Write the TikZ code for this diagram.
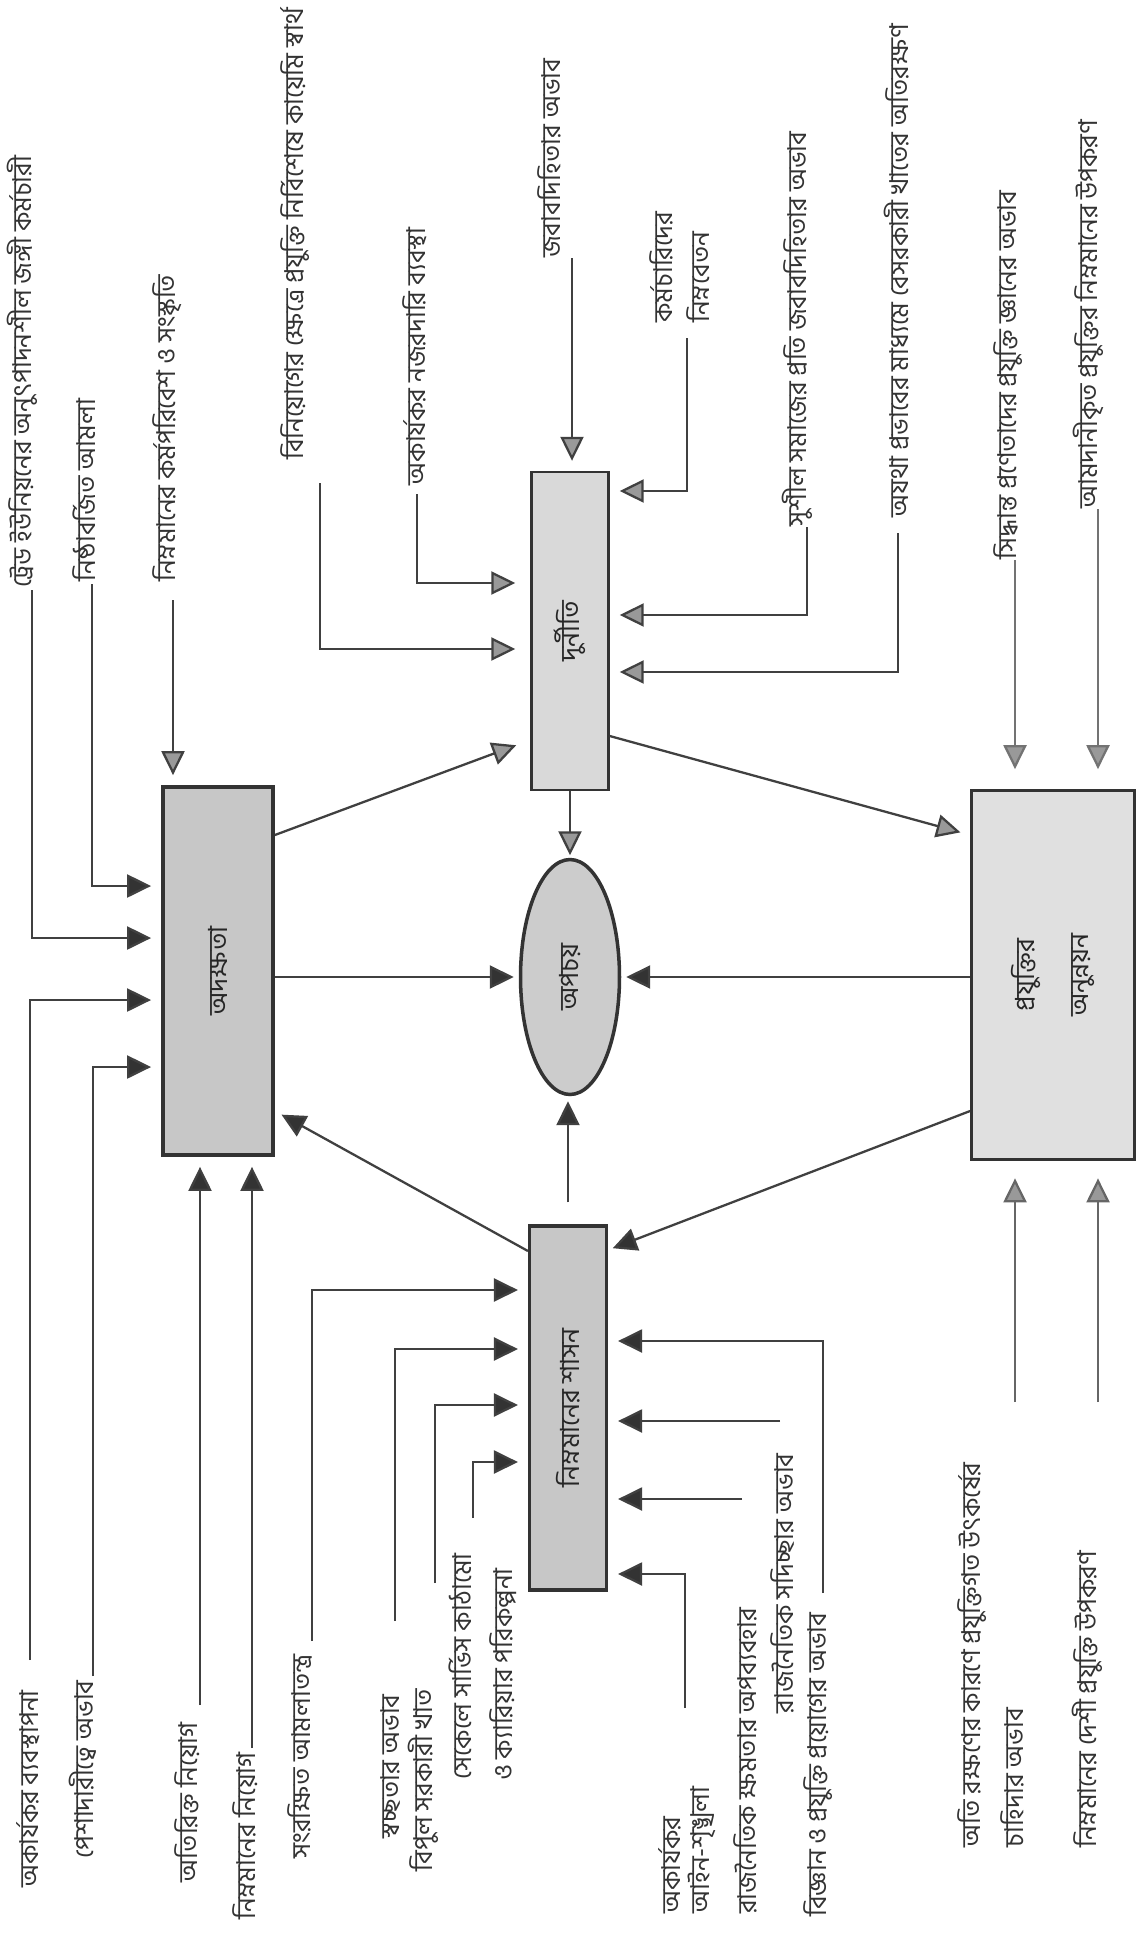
\documentclass[tikz,border=0pt]{standalone}
\usepackage{fontspec}
\newfontfamily\bn[Script=Bengali]{Hind Siliguri}
\usetikzlibrary{arrows.meta,shapes.geometric}
\begin{document}
\begin{tikzpicture}[x=0.02cm,y=-0.02cm,
  lab/.style={rotate=90,inner sep=0pt,font=\bn\fontsize{14.8}{21}\selectfont,text=black!80},
  boxlab/.style={rotate=90,inner sep=0pt,font=\bn\fontsize{15}{21}\selectfont,text=black!85,align=center},
  ln/.style={line width=1.3pt,draw=black!75},
  darr/.style={ln,-{Triangle[length=0.48cm,width=0.46cm,fill=black!80]},shorten >=0.2cm},
  garr/.style={ln,-{Triangle[length=0.48cm,width=0.46cm,fill=black!40]},shorten >=0.2cm},
  box/.style={draw=black!80,inner sep=0pt}
]
\fill[white] (0,0) rectangle (1139,1941);
\useasboundingbox (0,0) rectangle (1139,1941);

% central nodes
\node[box,line width=2.2pt,fill=black!22,minimum width=2.2cm,minimum height=7.36cm] (ad) at (218,971) {};
\node[box,line width=1.4pt,fill=black!15,minimum width=1.54cm,minimum height=6.36cm] (dn) at (570,631) {};
\node[box,ellipse,line width=2pt,fill=black!20,minimum width=1.98cm,minimum height=4.7cm] (ap) at (570,977) {};
\node[box,line width=1.8pt,fill=black!22,minimum width=1.54cm,minimum height=7.28cm] (ns) at (568,1408) {};
\node[box,line width=1.6pt,fill=black!12,minimum width=3.26cm,minimum height=7.38cm] (pr) at (1053,975) {};
\node[boxlab] (adl) at (ad.center) {অদক্ষতা};
\node[boxlab] (dnl) at (dn.center) {দুর্নীতি};
\node[boxlab] (apl) at (ap.center) {অপচয়};
\node[boxlab] (nsl) at (ns.center) {নিম্নমানের শাসন};
\node[boxlab] (prl) at (pr.center) {প্রযুক্তির\\[10pt]অনুন্নয়ন};

% central connectors
\draw[garr,shorten >=0.3cm] (ad.east |- 0,835) -- (dn.west |- 0,740);
\draw[darr,shorten >=0.1cm] (ad.east |- ap.west) -- (ap.west);
\draw[garr,shorten >=0.05cm] (dn.south) -- (dn.south |- ap.north);
\draw[garr] (dn.east |- 0,736) -- (pr.west |- 0,835);
\draw[darr,shorten >=0.1cm] (pr.west |- ap.east) -- (ap.east);
\draw[darr,shorten >=0.1cm] (pr.west |- 0,1111) -- (ns.east |- 0,1250);
\draw[darr,shorten <=0.44cm,shorten >=0.1cm] (ns.north) -- (ns.north |- ap.south);
\draw[darr,shorten >=0.15cm] (ns.west |- 0,1251) -- (ad.east |- 0,1111);

% top labels
\node[lab,anchor=west] (t1) at (22,588) {ট্রেড ইউনিয়নের অনুৎপাদনশীল জঙ্গী কর্মচারী};
\node[lab,anchor=west] (t2) at (84,582) {নিষ্ঠাবর্জিত আমলা};
\node[lab,anchor=west] (t3) at (167,582) {নিম্নমানের কর্মপরিবেশ ও সংস্কৃতি};
\node[lab,anchor=west] (t4) at (295,460) {বিনিয়োগের ক্ষেত্রে প্রযুক্তি নির্বিশেষে কায়েমি স্বার্থ};
\node[lab,anchor=east] (t5) at (415,227) {অকার্যকর নজরদারি ব্যবস্থা};
\node[lab,anchor=west] (t6) at (549,258) {জবাবদিহিতার অভাব};
\node[lab,anchor=west,align=left] (t7) at (680,323) {কর্মচারিদের\\নিম্নবেতন};
\node[lab,anchor=west] (t8) at (797,527) {সুশীল সমাজের প্রতি জবাবদিহিতার অভাব};
\node[lab,anchor=west] (t9) at (897,518) {অযথা প্রভাবের মাধ্যমে বেসরকারী খাতের অতিরক্ষণ};
\node[lab,anchor=west] (t10) at (1008,560) {সিদ্ধান্ত প্রণেতাদের প্রযুক্তি জ্ঞানের অভাব};
\node[lab,anchor=west] (t11) at (1088,509) {আমদানীকৃত প্রযুক্তির নিম্নমানের উপকরণ};

\coordinate (s1) at (32,590);
\coordinate (s2) at (92,584);
\coordinate (s3) at (173,600);
\coordinate (s4) at (320,483);
\coordinate (s5) at (417,494);
\coordinate (s6) at (572,258);
\coordinate (s7) at (687,338);
\coordinate (s8) at (807,527);
\coordinate (s9) at (898,533);
\coordinate (s10) at (1015,560);
\coordinate (s11) at (1098,509);

\draw[darr] (s1) |- (ad.west |- 0,938);
\draw[darr] (s2) |- (ad.west |- 0,886);
\draw[garr] (s3) -- (s3 |- ad.north);
\draw[garr,shorten >=0.3cm] (s4) |- (dn.west |- 0,649);
\draw[garr,shorten >=0.3cm] (s5) |- (dn.west |- 0,583);
\draw[garr] (s6) -- (s6 |- dn.north);
\draw[garr] (s7) |- (dn.east |- 0,491);
\draw[garr] (s8) |- (dn.east |- 0,615);
\draw[garr] (s9) |- (dn.east |- 0,672);
\draw[garr,draw=black!55,shorten >=0.4cm] (s10) -- (s10 |- pr.north);
\draw[garr,draw=black!55,shorten >=0.4cm] (s11) -- (s11 |- pr.north);

% bottom labels
\node[lab,anchor=east] (b1) at (28,1690) {অকার্যকর ব্যবস্থাপনা};
\node[lab,anchor=east] (b2) at (83,1680) {পেশাদারীত্বে অভাব};
\node[lab,anchor=east] (b3) at (187,1722) {অতিরিক্ত নিয়োগ};
\node[lab,anchor=east] (b4) at (245,1752) {নিম্নমানের নিয়োগ};
\node[lab,anchor=east] (b5) at (300,1654) {সংরক্ষিত আমলাতন্ত্র};
\node[lab,anchor=east] (b6) at (390,1694) {স্বচ্ছতার অভাব};
\node[lab,anchor=east] (b7) at (423,1689) {বিপুল সরকারী খাত};
\node[lab,anchor=east] (b8a) at (460,1553) {সেকেলে সার্ভিস কাঠামো};
\node[lab,anchor=east] (b8b) at (503,1568) {ও ক্যারিয়ার পরিকল্পনা};
\node[lab,anchor=west] (b9a) at (670,1914) {অকার্যকর};
\node[lab,anchor=west] (b9b) at (702,1914) {আইন-শৃঙ্খলা};
\node[lab,anchor=west] (b10) at (745,1914) {রাজনৈতিক ক্ষমতার অপব্যবহার};
\node[lab,anchor=east] (b11) at (782,1453) {রাজনৈতিক সদিচ্ছার অভাব};
\node[lab,anchor=west] (b12) at (818,1917) {বিজ্ঞান ও প্রযুক্তি প্রয়োগের অভাব};
\node[lab,anchor=west] (b13a) at (972,1848) {অতি রক্ষণের কারণে প্রযুক্তিগত উৎকর্ষের};
\node[lab,anchor=west] (b13b) at (1012,1848) {চাহিদার অভাব};
\node[lab,anchor=west] (b14) at (1087,1848) {নিম্নমানের দেশী প্রযুক্তি উপকরণ};

\coordinate (u1) at (30,1660);
\coordinate (u2) at (93,1676);
\coordinate (u3) at (200,1705);
\coordinate (u4) at (252,1748);
\coordinate (u5) at (312,1641);
\coordinate (u6) at (395,1621);
\coordinate (u7) at (435,1583);
\coordinate (u8) at (473,1518);
\coordinate (u9) at (685,1708);
\coordinate (u10) at (742,1499);
\coordinate (u11) at (780,1421);
\coordinate (u12) at (823,1593);
\coordinate (u13) at (1015,1402);
\coordinate (u14) at (1098,1402);

\draw[darr] (u1) |- (ad.west |- 0,1000);
\draw[darr] (u2) |- (ad.west |- 0,1067);
\draw[darr] (u3) -- (u3 |- ad.south);
\draw[darr] (u4) -- (u4 |- ad.south);
\draw[darr] (u5) |- (ns.west |- 0,1290);
\draw[darr] (u6) |- (ns.west |- 0,1349);
\draw[darr] (u7) |- (ns.west |- 0,1405);
\draw[darr] (u8) |- (ns.west |- 0,1462);
\draw[darr] (u9) |- (ns.east |- 0,1574);
\draw[darr] (u10) -- (ns.east |- u10);
\draw[darr] (u11) -- (ns.east |- u11);
\draw[darr] (u12) |- (ns.east |- 0,1341);
\draw[garr,draw=black!60,shorten >=0.35cm] (u13) -- (u13 |- pr.south);
\draw[garr,draw=black!60,shorten >=0.35cm] (u14) -- (u14 |- pr.south);
\end{tikzpicture}
\end{document}
